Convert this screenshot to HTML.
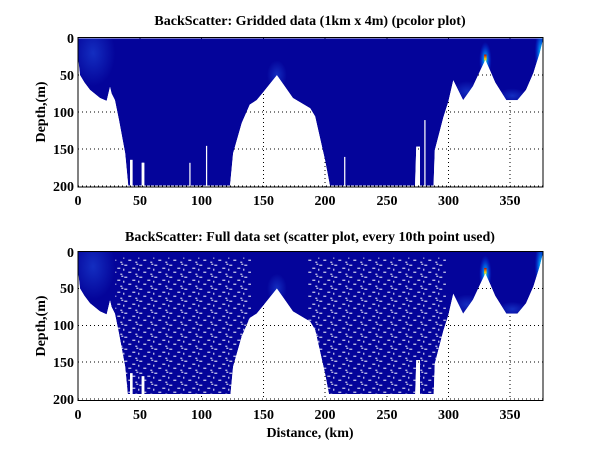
<!DOCTYPE html>
<html><head><meta charset="utf-8"><style>
html,body{margin:0;padding:0;background:#fff;}
svg{display:block;}
text{font-family:"Liberation Serif",serif;font-weight:bold;fill:#000;}
</style></head><body>
<svg width="600" height="451" viewBox="0 0 600 451" xmlns="http://www.w3.org/2000/svg">
<defs>
<polygon id="shp" points="0,0 0,29 1.4,50 5,60 9.5,70 17.6,81 23,85 25.7,66 27,75 29.7,84 33,111 38,156 40.5,200 42,200 42,165 44,165 44,200 51.4,200 51.4,169 53.5,169 53.5,200 123,200 125.5,156 132.5,115 139,90 144.6,84 150,73 161,50 174,81 188,95 192,106 200,165 204,200 273,200 274,147 277,147 277,200 288,200 289,152 296,107 300,86 304,57 312,84 320,65 330,29 338,60 347,84 356,84 363,70 369,47 374,20 377,0"/>
<clipPath id="c1"><use href="#shp"/></clipPath>
<radialGradient id="g1"><stop offset="0" stop-color="#2050e0" stop-opacity="0.55"/><stop offset="1" stop-color="#2050e0" stop-opacity="0"/></radialGradient>
<radialGradient id="g2"><stop offset="0" stop-color="#00e0ff"/><stop offset="0.4" stop-color="#0090ff" stop-opacity="0.7"/><stop offset="1" stop-color="#0040ff" stop-opacity="0"/></radialGradient>
<linearGradient id="g3" x1="0" y1="0" x2="0" y2="1"><stop offset="0" stop-color="#c00000"/><stop offset="0.5" stop-color="#ffd000"/><stop offset="1" stop-color="#00e0ff"/></linearGradient>
<pattern id="sp" width="15" height="12" patternUnits="userSpaceOnUse" patternTransform="scale(0.8107,1.3574)">
<rect x="1" y="1" width="3" height="1" fill="#fff"/><rect x="9" y="4" width="3" height="1" fill="#fff"/>
<rect x="5" y="8" width="3" height="1" fill="#fff"/><rect x="12" y="10" width="2" height="1" fill="#fff"/>
<rect x="0" y="5" width="1" height="2" fill="#fff"/><rect x="13" y="0" width="2" height="1" fill="#fff"/>
</pattern>
<g id="plot">
<g clip-path="url(#c1)">
<use href="#shp" fill="#04049a"/>
<ellipse cx="12" cy="20" rx="18" ry="45" fill="url(#g1)"/>
<ellipse cx="161" cy="50" rx="8" ry="20" fill="url(#g1)"/>
<ellipse cx="330" cy="30" rx="5" ry="25" fill="url(#g2)"/>
<ellipse cx="375" cy="20" rx="5" ry="35" fill="url(#g2)"/>
<ellipse cx="315" cy="72" rx="12" ry="14" fill="url(#g1)"/>
<ellipse cx="352" cy="78" rx="12" ry="10" fill="url(#g1)"/>
<rect x="329" y="22" width="2" height="12" fill="url(#g3)"/>
</g>
</g>
</defs>

<g stroke="#000" stroke-width="1" stroke-dasharray="1,3">
<line x1="140" y1="38" x2="140" y2="187"/><line x1="201.5" y1="38" x2="201.5" y2="187"/>
<line x1="263.5" y1="38" x2="263.5" y2="187"/><line x1="325" y1="38" x2="325" y2="187"/>
<line x1="387" y1="38" x2="387" y2="187"/><line x1="448.5" y1="38" x2="448.5" y2="187"/>
<line x1="510" y1="38" x2="510" y2="187"/>
<line x1="78" y1="75" x2="543" y2="75"/><line x1="78" y1="112" x2="543" y2="112"/>
<line x1="78" y1="149" x2="543" y2="149"/><line x1="78" y1="186" x2="543" y2="186"/>
<line x1="140" y1="252" x2="140" y2="400"/><line x1="201.5" y1="252" x2="201.5" y2="400"/>
<line x1="263.5" y1="252" x2="263.5" y2="400"/><line x1="325" y1="252" x2="325" y2="400"/>
<line x1="387" y1="252" x2="387" y2="400"/><line x1="448.5" y1="252" x2="448.5" y2="400"/>
<line x1="510" y1="252" x2="510" y2="400"/>
<line x1="78" y1="288.5" x2="543" y2="288.5"/><line x1="78" y1="325.5" x2="543" y2="325.5"/>
<line x1="78" y1="362" x2="543" y2="362"/><line x1="78" y1="399" x2="543" y2="399"/>
</g>

<g transform="translate(78.3,38.3) scale(1.2335,0.7367)">
<use href="#plot"/>
<g fill="#fff">
<rect x="90" y="169" width="1" height="35"/>
<rect x="103.5" y="146" width="1" height="58"/>
<rect x="215.5" y="161" width="1" height="43"/>
<rect x="280.5" y="111" width="1" height="93"/>
</g>
</g>

<clipPath id="cb"><rect x="78" y="251" width="466" height="143"/></clipPath>
<g clip-path="url(#cb)">
<g transform="translate(78.3,251.7) scale(1.2335,0.7367)">
<use href="#plot"/>
<g clip-path="url(#c1)">
<rect x="30" y="8" width="110" height="200" fill="url(#sp)"/>
<rect x="186" y="8" width="112" height="200" fill="url(#sp)"/>
</g>
</g>
</g>

<rect x="78" y="37.5" width="465" height="149.5" fill="none" stroke="#000"/>
<rect x="78" y="251.5" width="465" height="149" fill="none" stroke="#000"/>

<g font-size="14" text-anchor="middle">
<text x="78" y="205">0</text><text x="140" y="205">50</text><text x="201.5" y="205">100</text>
<text x="263.5" y="205">150</text><text x="325" y="205">200</text><text x="387" y="205">250</text>
<text x="448.5" y="205">300</text><text x="510" y="205">350</text>
<text x="78" y="419">0</text><text x="140" y="419">50</text><text x="201.5" y="419">100</text>
<text x="263.5" y="419">150</text><text x="325" y="419">200</text><text x="387" y="419">250</text>
<text x="448.5" y="419">300</text><text x="510" y="419">350</text>
</g>
<g font-size="14" text-anchor="end">
<text x="74" y="43">0</text><text x="74" y="80">50</text><text x="74" y="117">100</text>
<text x="74" y="154">150</text><text x="74" y="191">200</text>
<text x="74" y="257">0</text><text x="74" y="293">50</text><text x="74" y="330">100</text>
<text x="74" y="367">150</text><text x="74" y="404">200</text>
</g>
<text x="310" y="25" font-size="14" text-anchor="middle">BackScatter: Gridded data (1km x 4m) (pcolor plot)</text>
<text x="310" y="241" font-size="14" text-anchor="middle">BackScatter: Full data set (scatter plot, every 10th point used)</text>
<text x="310" y="437" font-size="14" text-anchor="middle">Distance, (km)</text>
<text transform="translate(45,112) rotate(-90)" font-size="14" text-anchor="middle">Depth,(m)</text>
<text transform="translate(45,326) rotate(-90)" font-size="14" text-anchor="middle">Depth,(m)</text>
</svg>
</body></html>
